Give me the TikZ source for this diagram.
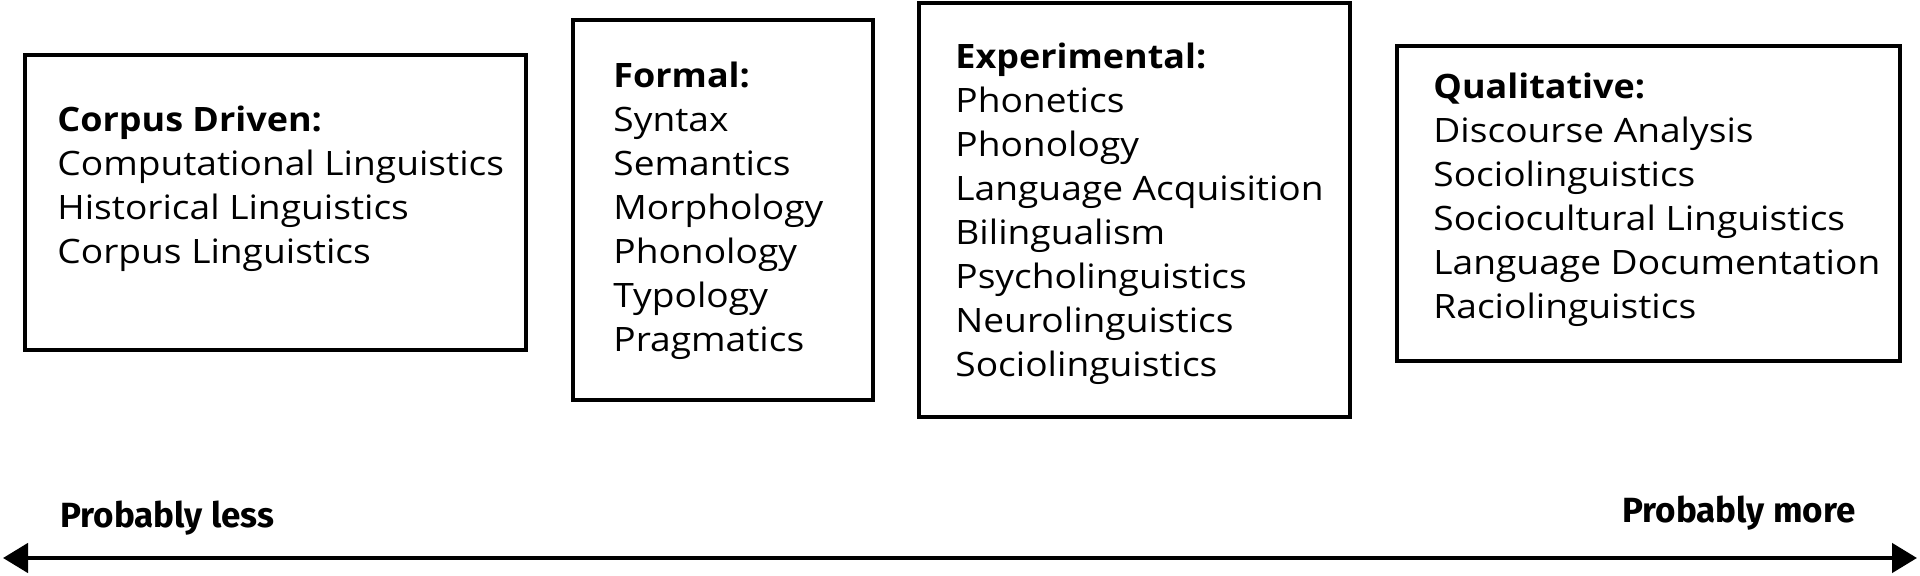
\documentclass[tikz,border=0pt]{standalone}
\usepackage{fontspec}
\setmainfont{Open Sans}[FakeStretch=1.105,BoldFeatures={FakeStretch=1.07}]
\newfontfamily\labfont{Fira Sans}
\usetikzlibrary{arrows.meta,fit}
\newcommand\stacklines[1]{\vtop{\baselineskip=22pt\lineskiplimit=-20pt\lineskip=0pt\halign{##\hfil\cr#1\crcr}}}
\begin{document}
\begin{tikzpicture}[x=0.5pt,y=-0.5pt,
  box/.style={draw=black,line width=2pt,inner sep=0pt,rectangle},
  txt/.style={anchor=base west,inner sep=0pt,font=\fontsize{16.8pt}{22pt}\selectfont},
  endlabel/.style={anchor=base west,inner sep=0pt,font=\labfont\bfseries\fontsize{17.5pt}{20pt}\selectfont},
  axis/.style={line width=2.3pt,{Triangle[length=12.5pt,width=14.5pt]}-{Triangle[length=12.5pt,width=14.5pt]}}]
\useasboundingbox (0,0) rectangle (1920,576);
\fill[white] (0,0) rectangle (1920,576);
% boxes
\node[box,fit={(25,55) (526,350)}] (corpus) {};
\node[box,fit={(573,20) (873,400)}] (formal) {};
\node[box,fit={(919,3) (1350,417)}] (exper) {};
\node[box,fit={(1397,46) (1900,361)}] (qual) {};
% texts
\node[txt] (tcorpus) at (57,132) {\stacklines{\textbf{Corpus Driven:}\cr Computational Linguistics\cr Historical Linguistics\cr Corpus Linguistics}};
\node[txt] (tformal) at (613,88) {\stacklines{\textbf{Formal:}\cr Syntax\cr Semantics\cr Morphology\cr Phonology\cr Typology\cr Pragmatics}};
\node[txt] (texper) at (955,69) {\stacklines{\textbf{Experimental:}\cr Phonetics\cr Phonology\cr Language Acquisition\cr Bilingualism\cr Psycholinguistics\cr Neurolinguistics\cr Sociolinguistics}};
\node[txt] (tqual) at (1433,99) {\stacklines{\textbf{Qualitative:}\cr Discourse Analysis\cr Sociolinguistics\cr Sociocultural Linguistics\cr Language Documentation\cr Raciolinguistics}};
% axis
\coordinate (left) at (3,558);
\coordinate (right) at (1917,558);
\draw[axis] (left) -- (right);
\node[endlabel] (less) at (60,527) {Probably less};
\node[endlabel] (more) at (1622,522) {Probably more};
\end{tikzpicture}
\end{document}
